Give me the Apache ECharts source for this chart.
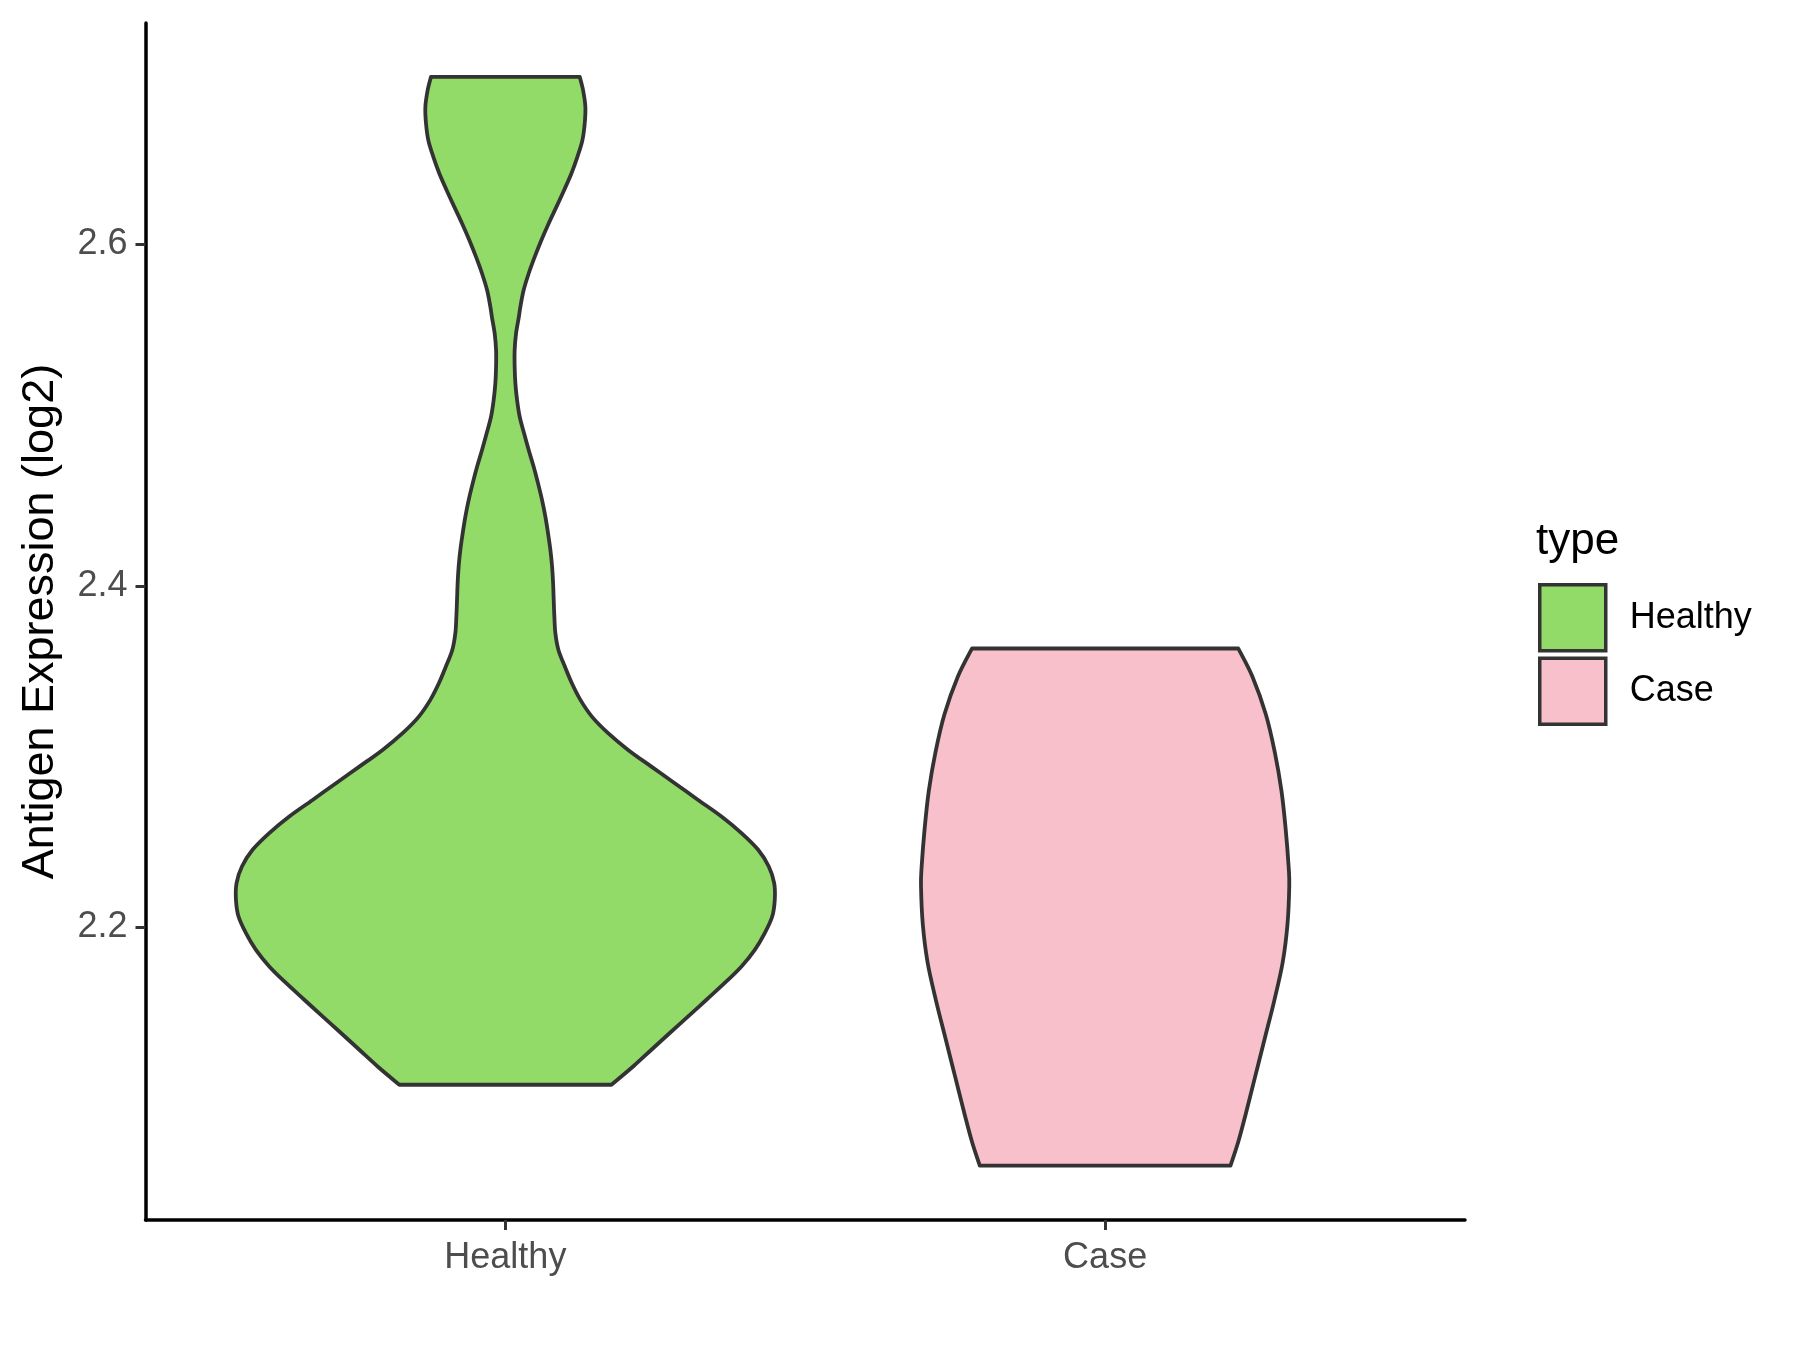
<!DOCTYPE html>
<html>
<head>
<meta charset="utf-8">
<script src="https://cdn.jsdelivr.net/npm/echarts@6/dist/echarts.min.js"></script>
<style>
  html, body { margin: 0; padding: 0; background: #fff; }
  #chart { width: 1800px; height: 1350px; }
</style>
</head>
<body>
<div id="chart"></div>
<script>
// groups on the x axis (placed at 1 and 2)
const groups = ['Healthy', 'Case'];
const yTicks = [2.2, 2.4, 2.6];

// violin outlines: expression value (bottom -> top) and half-width in category units
const healthyY = [2.1079, 2.1186, 2.1284, 2.1382, 2.1479, 2.1577, 2.1675, 2.1772, 2.1869, 2.1967,
                  2.2064, 2.2162, 2.2260, 2.2357, 2.2455, 2.2553, 2.2650, 2.2747, 2.2845, 2.2942,
                  2.3040, 2.3138, 2.3235, 2.3333, 2.3430, 2.3528, 2.3625, 2.3723, 2.3820, 2.3918,
                  2.4016, 2.4113, 2.4211, 2.4308, 2.4406, 2.4503, 2.4601, 2.4698, 2.4796, 2.4894,
                  2.4991, 2.5089, 2.5186, 2.5284, 2.5381, 2.5479, 2.5576, 2.5635, 2.5733, 2.5830,
                  2.5927, 2.6025, 2.6123, 2.6220, 2.6318, 2.6416, 2.6513, 2.6610, 2.6708, 2.6805,
                  2.6903, 2.6981];
const healthyW = [0.1768, 0.2130, 0.2435, 0.2741, 0.3048, 0.3353, 0.3658, 0.3937, 0.4159, 0.4325,
                  0.4449, 0.4492, 0.4482, 0.4392, 0.4215, 0.3937, 0.3603, 0.3214, 0.2824, 0.2435,
                  0.2047, 0.1713, 0.1443, 0.1251, 0.1109, 0.0992, 0.0885, 0.0834, 0.0817, 0.0806,
                  0.0796, 0.0779, 0.0751, 0.0712, 0.0667, 0.0612, 0.0545, 0.0472, 0.0389, 0.0312,
                  0.0239, 0.0195, 0.0167, 0.0155, 0.0155, 0.0178, 0.0225, 0.0250, 0.0305, 0.0389,
                  0.0489, 0.0600, 0.0722, 0.0851, 0.0979, 0.1101, 0.1201, 0.1284, 0.1323, 0.1334,
                  0.1296, 0.1241];

const caseY = [2.0605, 2.0745, 2.0902, 2.1125, 2.1348, 2.1572, 2.1795, 2.2018, 2.2242, 2.2353,
               2.2577, 2.2800, 2.3024, 2.3247, 2.3470, 2.3634];
const caseW = [0.209, 0.222, 0.234, 0.250, 0.266, 0.282, 0.296, 0.304, 0.307, 0.306,
               0.301, 0.294, 0.283, 0.268, 0.2455, 0.222];

const fills = ['#93DB69', '#F7C0CB'];
const outline = '#333333';
const font = 'Liberation Sans, Arial, sans-serif';

const chart = echarts.init(document.getElementById('chart'));

// smooth curve (catmull-rom -> bezier) through pixel points
function curveThrough(pts) {
  let d = '';
  for (let i = 0; i < pts.length - 1; i++) {
    const p0 = pts[i - 1] || pts[i], p1 = pts[i], p2 = pts[i + 1], p3 = pts[i + 2] || pts[i + 1];
    const c1 = [p1[0] + (p2[0] - p0[0]) / 6, p1[1] + (p2[1] - p0[1]) / 6];
    const c2 = [p2[0] - (p3[0] - p1[0]) / 6, p2[1] - (p3[1] - p1[1]) / 6];
    d += ' C' + c1[0] + ',' + c1[1] + ' ' + c2[0] + ',' + c2[1] + ' ' + p2[0] + ',' + p2[1];
  }
  return d;
}

// violin: smooth sides, flat top and bottom
function violinRender(ys, ws, pos, color) {
  return function (params, api) {
    const left = [], right = [];
    for (let i = 0; i < ys.length; i++) {
      left.push(api.coord([pos - ws[i], ys[i]]));
      right.push(api.coord([pos + ws[i], ys[i]]));
    }
    right.reverse();
    let d = 'M' + left[0][0] + ',' + left[0][1];
    d += curveThrough(left);
    d += ' L' + right[0][0] + ',' + right[0][1];
    d += curveThrough(right);
    d += ' Z';
    return {
      type: 'path',
      shape: { pathData: d },
      style: { fill: color, stroke: outline, lineWidth: 3.8, lineJoin: 'round' }
    };
  };
}

const option = {
  animation: false,
  backgroundColor: '#fff',
  title: {
    text: 'type',
    left: 1536,
    top: 520,
    padding: 0,
    textStyle: { fontFamily: font, fontSize: 44, fontWeight: 'normal', color: '#000' }
  },
  legend: {
    orient: 'vertical',
    left: 1538,
    top: 583,
    padding: 0,
    icon: 'rect',
    itemWidth: 66,
    itemHeight: 66,
    itemGap: 4,
    data: groups,
    itemStyle: { borderColor: outline, borderWidth: 3.5 },
    textStyle: { fontFamily: font, fontSize: 36, color: '#000', padding: [0, 0, 0, 19] }
  },
  grid: { left: 145.5, right: 335, top: 23, bottom: 130 },
  xAxis: {
    type: 'value',
    min: 0.4,
    max: 2.6,
    splitLine: { show: false },
    axisLine: { lineStyle: { color: '#000', width: 3.5 } },
    axisTick: { customValues: [1, 2], length: 10, lineStyle: { color: outline, width: 3 } },
    axisLabel: {
      customValues: [1, 2],
      formatter: v => groups[Math.round(v) - 1],
      fontFamily: font, fontSize: 36, color: '#4D4D4D', margin: 20
    }
  },
  yAxis: {
    type: 'value',
    min: 2.0287,
    max: 2.7297,
    name: 'Antigen Expression (log2)',
    nameLocation: 'middle',
    nameGap: 82,
    nameTextStyle: { fontFamily: font, fontSize: 45, color: '#000' },
    splitLine: { show: false },
    axisLine: { show: true, lineStyle: { color: '#000', width: 3.5 } },
    axisTick: { show: true, customValues: yTicks, length: 10, lineStyle: { color: outline, width: 3 } },
    axisLabel: {
      customValues: yTicks,
      formatter: v => v.toFixed(1),
      fontFamily: font, fontSize: 36, color: '#4D4D4D', margin: 18
    }
  },
  series: [
    {
      name: 'Healthy',
      type: 'custom',
      itemStyle: { color: fills[0] },
      data: [[1, 2.4]],
      renderItem: violinRender(healthyY, healthyW, 1, fills[0])
    },
    {
      name: 'Case',
      type: 'custom',
      itemStyle: { color: fills[1] },
      data: [[2, 2.2]],
      renderItem: violinRender(caseY, caseW, 2, fills[1])
    }
  ]
};

chart.setOption(option);
</script>
</body>
</html>
